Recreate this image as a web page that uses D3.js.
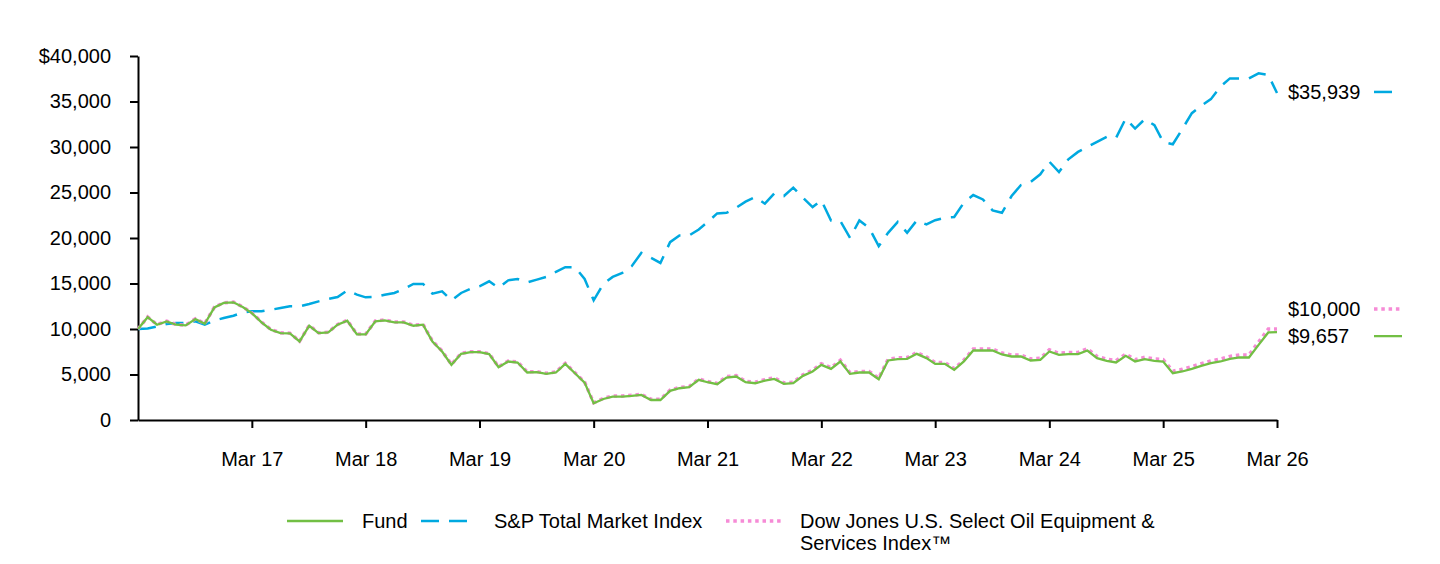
<!DOCTYPE html>
<html>
<head>
<meta charset="utf-8">
<script src="https://cdn.jsdelivr.net/npm/d3@7"></script>
<style>
  html, body { margin: 0; padding: 0; background: #fff; }
  svg { display: block; font-family: "Liberation Sans", Arial, sans-serif; }
</style>
</head>
<body>
<svg id="chart" width="1440" height="564"></svg>
<script>
// ---- Data ----
const startMonth = "2016-03";   // first data point (monthly, 121 points)
const fundValues = [
  10000,11300,10470,10840,10470,10400,11100,10580,12380,12860,12930,12380,
  11750,10730,9920,9550,9510,8630,10360,9550,9620,10470,10910,9400,
  9400,10840,10950,10730,10730,10360,10470,8630,7530,6060,7270,7460,
  7460,7240,5800,6430,6320,5220,5250,5070,5220,6170,5140,4110,
  1840,2310,2570,2570,2640,2750,2200,2200,3200,3490,3600,4410,
  4150,3930,4660,4780,4150,4040,4330,4520,3970,4040,4850,5330,
  6060,5620,6430,5070,5220,5220,4480,6540,6690,6720,7270,6800,
  6170,6170,5510,6430,7640,7640,7640,7200,6980,6980,6540,6610,
  7530,7160,7240,7240,7640,6800,6500,6320,7050,6430,6690,6500,
  6430,5140,5330,5620,5950,6240,6430,6720,6870,6870,8260,9620,
  9657
];
const spValues = [
  10000,10060,10280,10540,10650,10650,10840,10470,10950,11200,11460,11830,
  11940,11940,12120,12300,12490,12490,12750,13040,13300,13520,14250,13770,
  13480,13520,13770,13960,14400,14950,14950,13880,14140,13150,13960,14440,
  14690,15240,14510,15350,15500,15130,15430,15720,16270,16790,16790,15500,
  13150,14950,15720,16160,16900,18370,17810,17260,19540,20280,20280,20940,
  21740,22700,22770,23320,23990,24500,23770,24900,24610,25530,24430,23400,
  24130,21930,21850,20020,21930,21120,19100,20570,21780,20570,21930,21490,
  21960,22220,22300,23880,24720,24240,23030,22770,24610,25820,26150,27000,
  28390,27250,28650,29460,30010,30560,31110,31000,33130,32030,33060,32400,
  30560,30300,31960,33720,34530,35260,36660,37540,37540,37540,38090,37910,
  35939
];
const djValues = [
  10000,11320,10490,10860,10490,10420,11120,10600,12400,12890,12960,12410,
  11780,10760,9950,9580,9540,8660,10390,9580,9650,10500,10950,9440,
  9440,10880,10990,10770,10770,10400,10510,8680,7580,6110,7320,7510,
  7510,7290,5850,6490,6380,5280,5310,5130,5280,6230,5200,4170,
  1900,2380,2640,2640,2710,2820,2270,2270,3280,3570,3680,4500,
  4240,4030,4770,4890,4260,4150,4440,4640,4080,4150,4970,5460,
  6190,5750,6560,5190,5340,5340,4600,6680,6830,6860,7410,6940,
  6310,6310,5650,6580,7800,7800,7800,7360,7150,7150,6710,6780,
  7710,7340,7420,7420,7830,6990,6690,6510,7250,6630,6890,6700,
  6640,5370,5570,5870,6200,6500,6700,6990,7150,7150,8580,9990,
  10000
];
const seriesNames = ["Fund", "S&P Total Market Index", "Dow Jones U.S. Select Oil Equipment & Services Index\u2122"];
const endLabels = ["$9,657", "$35,939", "$10,000"];
const xTickLabels = ["Mar 17","Mar 18","Mar 19","Mar 20","Mar 21","Mar 22","Mar 23","Mar 24","Mar 25","Mar 26"];
const yTickValues = [0,5000,10000,15000,20000,25000,30000,35000,40000];
const yTickLabels = ["0","5,000","10,000","15,000","20,000","25,000","30,000","35,000","$40,000"];

// ---- Styles ----
const C = { fund: "#72bf44", sp: "#00a9e0", dj: "#f68bd6", axis: "#000" };
const FS = 20;

const svg = d3.select("#chart");
const parse = d3.timeParse("%Y-%m");
const t0 = parse(startMonth);
const dates = fundValues.map((_, i) => d3.timeMonth.offset(t0, i));

const x = d3.scaleTime().domain([dates[0], dates[dates.length - 1]]).range([138, 1277]);
const y = d3.scaleLinear().domain([0, 40000]).range([420, 56]);

// Axes
const xTickDates = xTickLabels.map((_, i) => d3.timeMonth.offset(t0, 12 * (i + 1)));
const xAxis = d3.axisBottom(x).tickValues(xTickDates)
  .tickFormat((d, i) => xTickLabels[i]).tickSize(8).tickPadding(24).tickSizeOuter(0);
const gx = svg.append("g").attr("transform", "translate(0,420)").call(xAxis);
gx.select(".domain").attr("stroke", C.axis).attr("stroke-width", 2);
gx.selectAll(".tick line").attr("stroke", C.axis).attr("stroke-width", 2);
gx.selectAll("text").attr("font-size", FS).attr("fill", "#000").attr("font-family", "Liberation Sans, Arial, sans-serif");

const yAxis = d3.axisLeft(y).tickValues(yTickValues)
  .tickFormat((d, i) => yTickLabels[i]).tickSize(8).tickPadding(19).tickSizeOuter(0);
const gy = svg.append("g").attr("transform", "translate(138,0)").call(yAxis);
gy.select(".domain").attr("stroke", C.axis).attr("stroke-width", 2);
gy.selectAll(".tick line").attr("stroke", C.axis).attr("stroke-width", 2);
gy.selectAll("text").attr("font-size", FS).attr("fill", "#000").attr("font-family", "Liberation Sans, Arial, sans-serif");

// Lines
const line = d3.line().x((d, i) => x(dates[i])).y(d => y(d));
svg.append("path").datum(spValues).attr("d", line)
  .attr("fill", "none").attr("stroke", C.sp).attr("stroke-width", 2.5)
  .attr("stroke-dasharray", "18,10");
svg.append("path").datum(djValues).attr("d", line)
  .attr("fill", "none").attr("stroke", C.dj).attr("stroke-width", 3.5)
  .attr("stroke-dasharray", "3.5,3.8");
svg.append("path").datum(fundValues).attr("d", line)
  .attr("fill", "none").attr("stroke", C.fund).attr("stroke-width", 2.3);

// End labels
const last = fundValues.length - 1;
const ends = [
  { label: endLabels[1], v: spValues[last], nudge: -1, color: C.sp, dash: "18,10", len: 19, w: 2.5 },
  { label: endLabels[2], v: djValues[last], nudge: -20, color: C.dj, dash: "3.5,3.8", len: 28, w: 3.5 },
  { label: endLabels[0], v: fundValues[last], nudge: 4, color: C.fund, dash: null, len: 28, w: 2.3 }
];
ends.forEach(e => {
  const yy = y(e.v) + e.nudge;
  svg.append("text").attr("x", 1288).attr("y", yy).attr("dy", "0.36em")
    .attr("font-size", FS).text(e.label);
  const l = svg.append("line").attr("x1", 1374).attr("x2", 1374 + e.len)
    .attr("y1", yy).attr("y2", yy).attr("stroke", e.color).attr("stroke-width", e.w);
  if (e.dash) l.attr("stroke-dasharray", e.dash);
});

// Legend
const ly = 521;
const lg = svg.append("g");
lg.append("line").attr("x1", 287).attr("x2", 343).attr("y1", ly).attr("y2", ly)
  .attr("stroke", C.fund).attr("stroke-width", 2.3);
lg.append("text").attr("x", 362).attr("y", ly).attr("dy", "0.36em").attr("font-size", FS).text(seriesNames[0]);
lg.append("line").attr("x1", 421).attr("x2", 467).attr("y1", ly).attr("y2", ly)
  .attr("stroke", C.sp).attr("stroke-width", 2.5).attr("stroke-dasharray", "18,10");
lg.append("text").attr("x", 494).attr("y", ly).attr("dy", "0.36em").attr("font-size", FS).text(seriesNames[1]);
lg.append("line").attr("x1", 726).attr("x2", 783).attr("y1", ly).attr("y2", ly)
  .attr("stroke", C.dj).attr("stroke-width", 3.5).attr("stroke-dasharray", "3.5,3.8");
const djText = lg.append("text").attr("x", 800).attr("y", ly).attr("dy", "0.36em").attr("font-size", FS);
djText.append("tspan").attr("x", 800).text("Dow Jones U.S. Select Oil Equipment &");
djText.append("tspan").attr("x", 800).attr("dy", 22).text("Services Index\u2122");
</script>
</body>
</html>
